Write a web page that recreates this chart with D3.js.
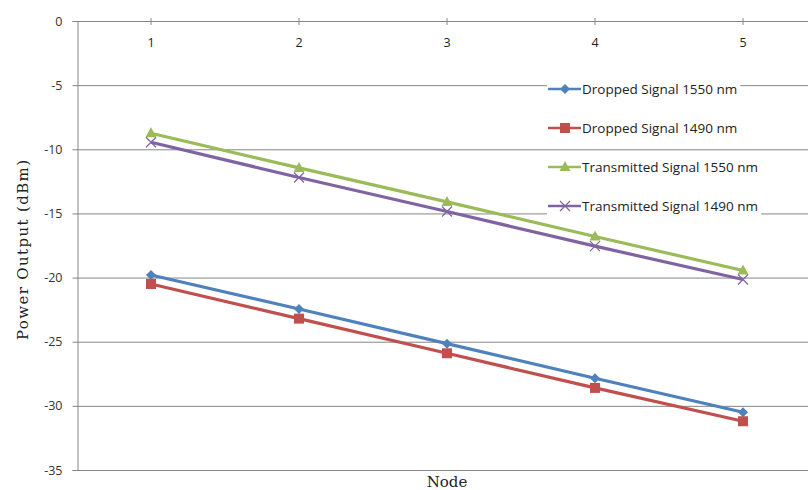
<!DOCTYPE html>
<html><head><meta charset="utf-8">
<script src="https://cdn.jsdelivr.net/npm/d3@7"></script>
<style>body{margin:0;background:#fff}svg{display:block}</style>
</head><body>
<svg id="c" width="808" height="490"></svg>
<script>
const nodes = ["1","2","3","4","5"];
const seriesNames = ["Dropped Signal 1550 nm","Dropped Signal 1490 nm","Transmitted Signal 1550 nm","Transmitted Signal 1490 nm"];
const dropped1550 = [-19.8,-22.45,-25.15,-27.85,-30.5];
const dropped1490 = [-20.5,-23.2,-25.9,-28.6,-31.2];
const transmitted1550 = [-8.75,-11.45,-14.1,-16.8,-19.45];
const transmitted1490 = [-9.45,-12.2,-14.85,-17.55,-20.15];
const yTicks = [0,-5,-10,-15,-20,-25,-30,-35];
const colors = ["#4F81BD","#C0504D","#9BBB59","#8064A2"];
const markers = ["diamond","square","triangle","x"];
const allSeries = [dropped1550,dropped1490,transmitted1550,transmitted1490];

const svg = d3.select("#c");
const mLeft = 77, mTop = 21, mBottom = 470, bandW = 148;
const x = d3.scaleBand().domain(nodes).range([mLeft, mLeft + bandW*nodes.length]);
const y = d3.scaleLinear().domain([0,-35]).range([mTop,mBottom]);
const grid = "#868686";
const sans = "'Open Sans', 'DejaVu Sans', sans-serif";
const serif = "'DejaVu Serif', 'Liberation Serif', serif";

// gridlines
svg.append("g").selectAll("line").data(yTicks).join("line")
  .attr("x1", mLeft).attr("x2", 808).attr("y1", d=>y(d)+0.5).attr("y2", d=>y(d)+0.5)
  .attr("stroke", grid).attr("stroke-width",1);

// y axis
const yAx = svg.append("g").attr("transform",`translate(${mLeft+0.5},0)`)
  .call(d3.axisLeft(y).tickValues(yTicks).tickSize(5).tickPadding(10).tickFormat(d=>String(d)));
yAx.select(".domain").attr("stroke",grid);
yAx.selectAll(".tick line").attr("stroke",grid);
yAx.selectAll(".tick text").attr("font-family",sans).attr("font-size",12.5).attr("fill","#333");

// x axis (at top, y = 0)
const xAx = svg.append("g").attr("transform",`translate(0,${y(0)+0.5})`)
  .call(d3.axisBottom(x).tickSize(0).tickPadding(17));
xAx.select(".domain").remove();
xAx.selectAll(".tick text").attr("font-family",sans).attr("font-size",12.5).attr("fill","#222");
svg.append("g").selectAll("line").data(nodes).join("line")
  .attr("x1", d=>x(d)+bandW/2).attr("x2", d=>x(d)+bandW/2)
  .attr("y1", y(0)-3).attr("y2", y(0)+4).attr("stroke",grid);

// axis titles
svg.append("text").attr("x", x("3")+bandW/2).attr("y", 487).attr("text-anchor","middle")
  .attr("font-family",serif).attr("font-size",15).attr("fill","#222").text("Node");
svg.append("text").attr("transform","translate(28,250) rotate(-90)").attr("text-anchor","middle")
  .attr("font-family",serif).attr("font-size",15).attr("fill","#222")
  .attr("textLength",180).attr("lengthAdjust","spacing").text("Power Output (dBm)");

function drawMarker(g, type, cx, cy, color){
  if(type==="diamond"){
    g.append("path").attr("d",`M${cx},${cy-5}L${cx+5},${cy}L${cx},${cy+5}L${cx-5},${cy}Z`).attr("fill",color);
  } else if(type==="square"){
    g.append("rect").attr("x",cx-5).attr("y",cy-5).attr("width",10).attr("height",10).attr("fill",color);
  } else if(type==="triangle"){
    g.append("path").attr("d",`M${cx},${cy-6}L${cx+5.5},${cy+4}L${cx-5.5},${cy+4}Z`).attr("fill",color);
  } else {
    g.append("path").attr("d",`M${cx-5},${cy-5}L${cx+5},${cy+5}M${cx+5},${cy-5}L${cx-5},${cy+5}`).attr("stroke",color).attr("stroke-width",1.2).attr("fill","none");
  }
}

const line = d3.line().x((d,i)=>x(nodes[i])+bandW/2).y(d=>y(d));
allSeries.forEach((s,k)=>{
  const g = svg.append("g");
  g.append("path").datum(s).attr("d",line).attr("fill","none").attr("stroke",colors[k]).attr("stroke-width",3.2).attr("stroke-linejoin","round");
  s.forEach((v,i)=>drawMarker(g, markers[k], x(nodes[i])+bandW/2, y(v), colors[k]));
});

// legend
const legY = [89,128,167,206];
seriesNames.forEach((n,k)=>{
  const g = svg.append("g");
  const t = g.append("text").attr("x",582).attr("y",legY[k]+5).attr("font-family",sans)
    .attr("font-size",13.5).attr("fill","#222").text(n);
  const w = t.node().getComputedTextLength();
  g.insert("rect","text").attr("x",547).attr("y",legY[k]-9).attr("width",582+w+3-547).attr("height",19).attr("fill","#fff");
  g.append("line").attr("x1",548).attr("x2",581).attr("y1",legY[k]).attr("y2",legY[k]).attr("stroke",colors[k]).attr("stroke-width",2.5);
  drawMarker(g, markers[k], 565, legY[k], colors[k]);
});
</script>
</body></html>
